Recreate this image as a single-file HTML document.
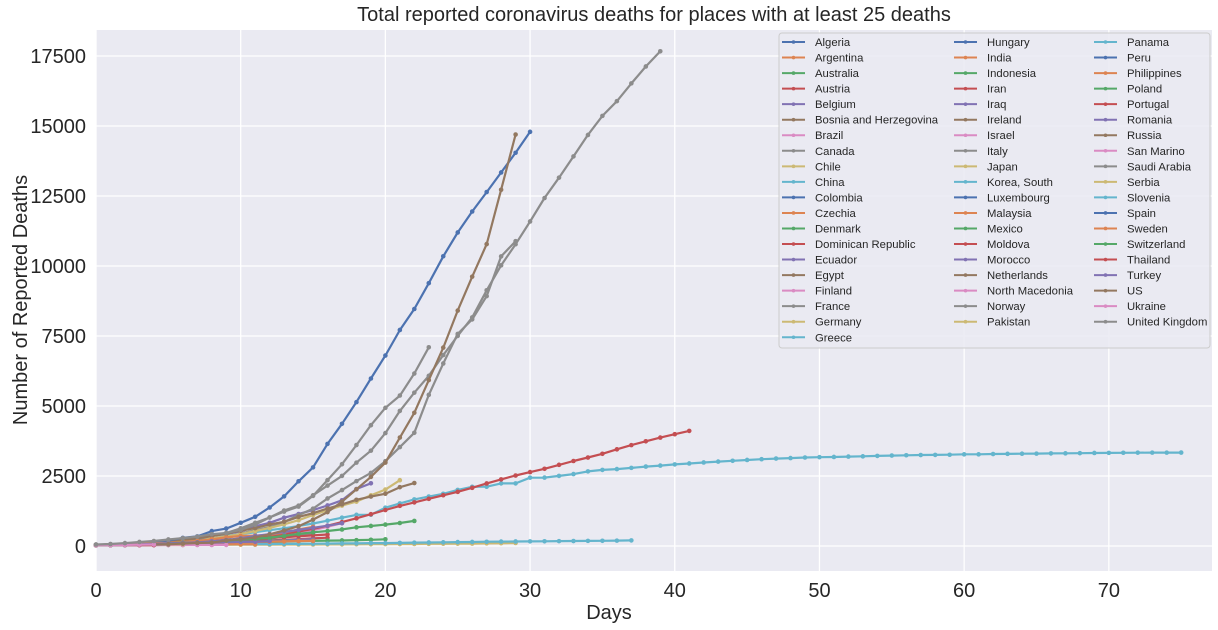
<!DOCTYPE html>
<html><head><meta charset="utf-8">
<style>
html,body{margin:0;padding:0;background:#fff;}
svg{display:block;font-family:"Liberation Sans",Arial,sans-serif;}
</style></head>
<body>
<svg id="chart" width="1218" height="630" viewBox="0 0 1218 630" xmlns="http://www.w3.org/2000/svg">
<rect x="0" y="0" width="1218" height="630" fill="#ffffff"/>
<rect x="96" y="30" width="1116" height="541" fill="#EAEAF2"/>
<g id="grid"></g>
<g id="series"></g>
<g id="ticks"></g>
<text x="654" y="21" text-anchor="middle" font-size="20" fill="#262626">Total reported coronavirus deaths for places with at least 25 deaths</text>
<text x="609" y="619" text-anchor="middle" font-size="20" fill="#262626">Days</text>
<text transform="translate(27,300) rotate(-90)" text-anchor="middle" font-size="20" fill="#262626">Number of Reported Deaths</text>
<g id="legend"></g>
</svg>
<script>
const countries = ["Algeria","Argentina","Australia","Austria","Belgium","Bosnia and Herzegovina","Brazil","Canada","Chile","China","Colombia","Czechia","Denmark","Dominican Republic","Ecuador","Egypt","Finland","France","Germany","Greece","Hungary","India","Indonesia","Iran","Iraq","Ireland","Israel","Italy","Japan","Korea, South","Luxembourg","Malaysia","Mexico","Moldova","Morocco","Netherlands","North Macedonia","Norway","Pakistan","Panama","Peru","Philippines","Poland","Portugal","Romania","Russia","San Marino","Saudi Arabia","Serbia","Slovenia","Spain","Sweden","Switzerland","Thailand","Turkey","US","Ukraine","United Kingdom"];
const deaths = {
"Algeria":[25,26,29,31,35,44,58,83,86,105,130,152,173,193,205],
"Argentina":[27,32,39,43,44,48,60,83],
"Australia":[28,30,35,35,40,45],
"Austria":[28,30,49,58,68,86,108,128,146,158,168,186,204,220,243,273,295],
"Belgium":[37,67,75,88,122,178,220,289,353,431,513,705,828,1011,1143,1283,1447,1632,2035,2240],
"Bosnia and Herzegovina":[26,29,33,34,36,38],
"Brazil":[25,34,46,59,77,92,111,136,159,201,240,324,359,445,486,564,686,819],
"Canada":[25,35,39,54,61,64,80,101,109,139,179,218,259,339,375,435],
"Chile":[27,34,37,43,48,57,65],
"China":[26,42,56,82,131,133,171,213,259,361,425,491,563,633,718,805,905,1012,1112,1117,1369,1521,1663,1766,1864,2003,2116,2118,2236,2236,2441,2443,2503,2568,2665,2717,2746,2790,2837,2872,2914,2947,2983,3015,3044,3072,3100,3123,3139,3161,3172,3180,3193,3203,3217,3230,3241,3249,3253,3259,3274,3274,3285,3291,3296,3299,3306,3309,3316,3322,3326,3330,3333,3335,3335,3337],
"Colombia":[25,32,35,46,50,54,58,69],
"Czechia":[31,39,44,53,59,67,78,88,94],
"Denmark":[32,41,52,65,72,77,90,104,123,139,161,179,187,203,218],
"Dominican Republic":[28,39,42,51,57,60,68,82,86,98,108,118,126],
"Ecuador":[27,28,34,36,48,58,60,75,93,120,145,172,180,191,220,242],
"Egypt":[30,36,41,46,52,66,71,78,85,94,103,118,135],
"Finland":[25,27,28,34,40,42],
"France":[48,48,61,79,91,91,149,149,149,244,451,563,676,862,1102,1333,1698,1997,2317,2611,3030,3532,4043,5398,6520,7574,8093,8926,10343,10887],
"Germany":[28,44,67,84,94,123,157,206,267,342,433,533,645,775,920,1107,1275,1444,1584,1810,2016,2349],
"Greece":[26,28,32,38,43,49,50,53,63,68,73,79,81,83],
"Hungary":[26,32,34,38,46,58],
"India":[27,32,35,58,72,72,86,99,136,150,178,199],
"Indonesia":[25,32,38,48,49,55,58,78,87,102,114,122,136,157,170,181,191,198,209,221,240],
"Iran":[34,43,54,66,77,92,107,124,145,194,237,291,354,429,514,611,724,853,988,1135,1284,1433,1556,1685,1812,1934,2077,2234,2378,2517,2640,2757,2898,3036,3160,3294,3452,3603,3739,3872,3993,4110],
"Iraq":[36,42,44,50,52,54,56,61,65],
"Ireland":[25,36,46,54,71,85,98,120,137,158,174,210,235],
"Israel":[25,36,44,57,65,73,86,95],
"Italy":[29,34,52,79,107,148,197,233,366,463,631,827,1016,1266,1441,1809,2158,2503,2978,3405,4032,4825,5476,6077,6820,7503,8165,9134,10023,10779,11591,12428,13155,13915,14681,15362,15887,16523,17127,17669],
"Japan":[28,29,31,33,35,35,36,41,42,43,45,46,49,52,54,54,56,57,62,63,69,70,73,77,80,84,85,94,98,108],
"Korea, South":[26,28,32,35,42,44,50,51,54,60,66,67,72,75,75,81,84,91,94,102,104,111,120,126,131,139,144,152,158,162,165,169,174,177,183,186,192,200],
"Luxembourg":[29,30,31,36,41,44,46,52],
"Malaysia":[26,27,37,43,45,50,53,57,61,62,63,65],
"Mexico":[28,29,37,50,60,79,94,125,141,174],
"Moldova":[27,30],
"Morocco":[33,44,48,59,70,80,81,90,93],
"Netherlands":[43,58,76,106,136,179,213,276,356,434,546,639,771,864,1039,1173,1339,1487,1651,1766,1867,2101,2248],
"North Macedonia":[26,30,32,34],
"Norway":[32,39,44,50,59,62,71,76,86,101],
"Pakistan":[28,31,35,41,50,54],
"Panama":[27,30,32,41,54,55,59,63,66,74],
"Peru":[30,55,61,73,83,92,107,121],
"Philippines":[25,35,38,54,68,71,78,88,96,107,136,144,152,163,177,182],
"Poland":[31,33,57,71,79,94,107,129,159,174],
"Portugal":[33,43,60,76,100,119,140,160,187,209,246,266,295,311,345,380,409],
"Romania":[26,37,43,52,65,69,85,92,115,133,146,151,176],
"Russia":[34,43,45,47,58],
"San Marino":[25,26,26,30,32,34,35,36,36,38],
"Saudi Arabia":[29,38,41,44,47,52],
"Serbia":[31,39,44,51,58,61,65],
"Slovenia":[28,30,36,40],
"Spain":[28,35,54,55,133,195,289,342,533,623,830,1043,1375,1772,2311,2808,3647,4365,5138,5982,6803,7716,8464,9387,10348,11198,11947,12641,13341,14045,14792],
"Sweden":[25,36,62,77,105,110,146,179,239,308,358,373,401,477,591,687],
"Switzerland":[27,28,41,54,75,98,120,122,153,191,231,264,300,359,433,488,536,591,666,715,765,821,895],
"Thailand":[26,27,30,32,33],
"Turkey":[30,37,44,59,75,92,108,131,168,214,277,356,425,501,574,649,725,812],
"US":[28,36,40,47,54,63,85,108,118,200,244,307,417,557,706,942,1209,1581,2026,2467,2978,3873,4757,5926,7087,8407,9619,10783,12722,14695],
"Ukraine":[27,32,37,45,52],
"United Kingdom":[55,71,104,144,177,233,281,335,422,465,578,759,1019,1228,1408,1789,2352,2921,3605,4313,4934,5373,6159,7097]
};
const xTicks = [0,10,20,30,40,50,60,70];
const yTicks = [0,2500,5000,7500,10000,12500,15000,17500];
const palette = ["#4C72B0","#DD8452","#55A868","#C44E52","#8172B3","#937860","#DA8BC3","#8C8C8C","#CCB974","#64B5CD"];

const NS = "http://www.w3.org/2000/svg";
const PL = 96, PR = 1212, PT = 30, PB = 571;
const XMIN = 0, XMAX = 77.13, YMIN = -893, YMAX = 18429;
function xs(d){ return PL + (d - XMIN) / (XMAX - XMIN) * (PR - PL); }
function ys(v){ return PB - (v - YMIN) / (YMAX - YMIN) * (PB - PT); }
function mk(tag, attrs, parent){ const e = document.createElementNS(NS, tag); for (const k in attrs) e.setAttribute(k, attrs[k]); parent.appendChild(e); return e; }

const grid = document.getElementById('grid');
const ticks = document.getElementById('ticks');
xTicks.forEach(t => {
  const l = mk('line', {x1: xs(t), x2: xs(t), y1: PT, y2: PB, stroke: '#ffffff', 'stroke-width': 1.3}, grid);
  
  
  const tx = mk('text', {x: xs(t), y: 597, 'text-anchor': 'middle', 'font-size': 20, fill: '#262626'}, ticks);
  tx.textContent = t;
  
  
});
yTicks.forEach(t => {
  const l = mk('line', {x1: PL, x2: PR, y1: ys(t), y2: ys(t), stroke: '#ffffff', 'stroke-width': 1.3}, grid);
  
  
  const tx = mk('text', {x: 86, y: ys(t) + 7, 'text-anchor': 'end', 'font-size': 20, fill: '#262626'}, ticks);
  tx.textContent = t;
  
  
});

const sg = document.getElementById('series');
countries.forEach((c, i) => {
  const col = palette[i % 10];
  const vals = deaths[c];
  const g = mk('g', {}, sg);
  
  
  const pts = vals.map((v, d) => xs(d).toFixed(1) + ',' + ys(v).toFixed(1)).join(' ');
  const pl = mk('polyline', {points: pts, fill: 'none', stroke: col, 'stroke-width': 2.2, 'stroke-linejoin': 'round'}, g);
  
  
  vals.forEach((v, d) => {
    const p = mk('circle', {cx: xs(d), cy: ys(v), r: 2.3, fill: col}, g);
    
    
  });
});

const lg = document.getElementById('legend');
const box = mk('rect', {x: 779, y: 33, width: 431, height: 315, rx: 3, fill: '#EAEAF2', 'fill-opacity': 0.85, stroke: '#cccccc', 'stroke-width': 1}, lg);


const colX = [782, 954, 1094];
countries.forEach((c, i) => {
  let col, row;
  if (i < 20) { col = 0; row = i; } else { col = 1 + Math.floor((i - 20) / 19); row = (i - 20) % 19; }
  const hx = colX[col], y = 42 + row * 15.54;
  const g = mk('g', {}, lg);
  
  
  mk('line', {x1: hx, x2: hx + 23, y1: y, y2: y, stroke: palette[i % 10], 'stroke-width': 2}, g);
  mk('circle', {cx: hx + 11.5, cy: y, r: 1.8, fill: palette[i % 10]}, g);
  const t = mk('text', {x: hx + 33, y: y + 4, 'font-size': 11.3, fill: '#262626'}, g);
  t.textContent = c;
});
</script>
</body></html>
